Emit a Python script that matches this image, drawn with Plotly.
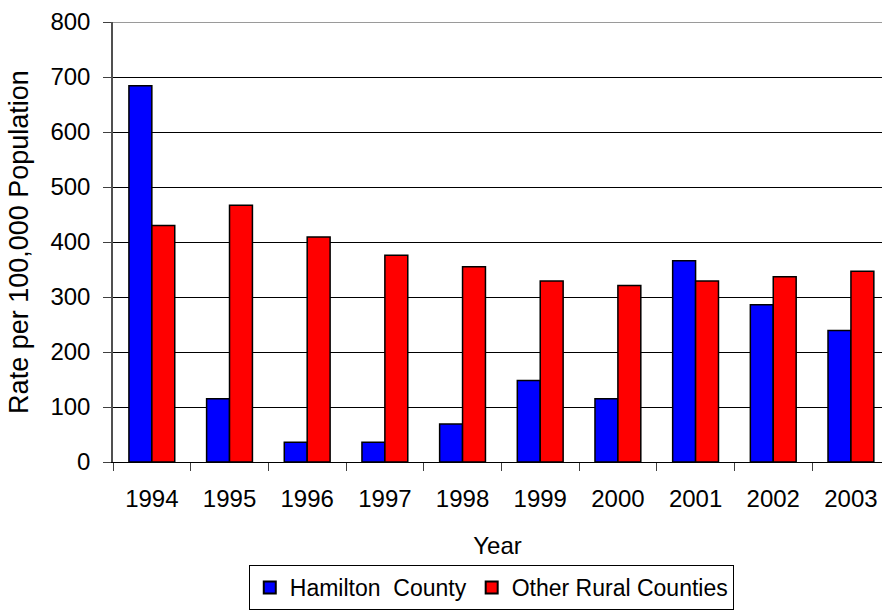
import plotly.graph_objects as go

# Rates per 100,000 population by year
years = ["1994", "1995", "1996", "1997", "1998", "1999", "2000", "2001", "2002", "2003"]
hamilton = [684, 115, 36, 36, 69, 148, 115, 366, 286, 239]
other_rural = [430, 467, 409, 376, 355, 329, 321, 329, 337, 347]
y_ticks = [0, 100, 200, 300, 400, 500, 600, 700, 800]
Y_MAX = 800

FONT = "Liberation Sans, Arial, sans-serif"

fig = go.Figure()
fig.add_trace(go.Bar(
    x=years, y=hamilton, name="Hamilton  County",
    marker=dict(color="#0000FF", line=dict(color="black", width=1.5)),
))
fig.add_trace(go.Bar(
    x=years, y=other_rural, name="Other Rural Counties",
    marker=dict(color="#FF0000", line=dict(color="black", width=1.5)),
))

# gray frame line along the top of the plot area
fig.add_shape(type="line", xref="paper", yref="y", x0=0, x1=1, y0=Y_MAX, y1=Y_MAX,
              line=dict(color="#9a9a9a", width=2), layer="above")

fig.update_layout(
    width=882, height=613,
    margin=dict(l=113, r=0, t=21.5, b=150.5),
    paper_bgcolor="white", plot_bgcolor="white",
    font=dict(family=FONT, size=24, color="black"),
    barmode="group", bargap=0.41, bargroupgap=0,
    showlegend=True,
    legend=dict(
        orientation="h", x=0.557, xanchor="center", xref="container",
        y=3 / 613, yanchor="bottom", yref="container",
        bordercolor="black", borderwidth=1, bgcolor="white",
        font=dict(size=23), itemwidth=30, traceorder="normal",
        itemsizing="constant",
    ),
    xaxis=dict(
        type="category", range=[-0.5, 9.4],
        showline=True, linecolor="black", linewidth=1,
        ticks="outside", tickson="boundaries", ticklen=8, tickcolor="#404040",
        showgrid=False, tickfont=dict(size=24), ticklabelstandoff=15,
        title=dict(text="Year", font=dict(size=24), standoff=26),
    ),
    yaxis=dict(
        range=[0, Y_MAX], tickvals=y_ticks,
        showline=True, linecolor="#505050", linewidth=1.5,
        ticks="outside", ticklen=8, tickcolor="#404040",
        showgrid=True, gridcolor="black", gridwidth=1,
        zeroline=False, tickfont=dict(size=24), ticklabelstandoff=8,
        title=dict(text="Rate per 100,000 Population", font=dict(size=27), standoff=14),
    ),
)

fig.write_html("out.html")
